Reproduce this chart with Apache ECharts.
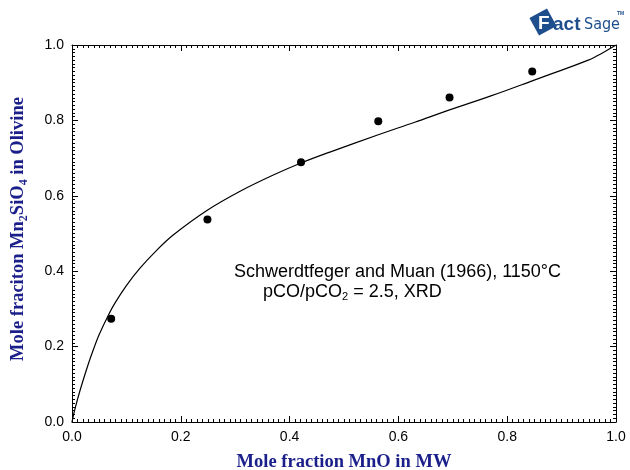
<!DOCTYPE html>
<html>
<head>
<meta charset="utf-8">
<script src="https://cdn.jsdelivr.net/npm/echarts@6/dist/echarts.min.js"></script>
<style>html,body{margin:0;padding:0;background:#fff}#c{width:630px;height:470px}</style>
</head>
<body>
<div id="c"></div>
<script>
// Calculated curve (FactSage)
const curveX = [0, 0.005, 0.015, 0.03, 0.039, 0.05, 0.067, 0.08, 0.1, 0.125, 0.156, 0.186, 0.248, 0.309, 0.37, 0.421, 0.474, 0.563, 0.63, 0.694, 0.77, 0.846, 0.949, 0.975, 1.0];
const curveY = [0, 0.032, 0.085, 0.154, 0.191, 0.232, 0.284, 0.318, 0.362, 0.408, 0.456, 0.496, 0.561, 0.612, 0.655, 0.687, 0.716, 0.762, 0.795, 0.828, 0.865, 0.905, 0.960, 0.979, 1.0];
// Experimental points: Schwerdtfeger and Muan (1966)
const expX = [0.072, 0.249, 0.421, 0.563, 0.694, 0.846];
const expY = [0.274, 0.537, 0.689, 0.798, 0.861, 0.930];
const xTicks = [0, 0.2, 0.4, 0.6, 0.8, 1.0];
const yTicks = [0, 0.2, 0.4, 0.6, 0.8, 1.0];

const navy = '#1b1f8a';
const logoBlue = '#1f4e8d';
const chart = echarts.init(document.getElementById('c'));
const axisCommon = {
  type: 'value', min: xTicks[0], max: xTicks[xTicks.length - 1], interval: 0.2,
  axisLine: {show: true, onZero: false, lineStyle: {color: '#000', width: 1}},
  axisTick: {show: true, inside: true, length: 6, lineStyle: {color: '#000', width: 1}},
  minorTick: {show: true, splitNumber: 20, length: 3, lineStyle: {color: '#000', width: 1}},
  splitLine: {show: false}
};
const lbl = {color: '#000', fontSize: 14, fontFamily: 'Liberation Sans, Arial', formatter: v => v.toFixed(1)};
chart.setOption({
  animation: false,
  backgroundColor: '#fff',
  grid: {left: 72, right: 14, top: 45, bottom: 48, containLabel: false, outerBoundsMode: 'none'},
  xAxis: [
    Object.assign({}, axisCommon, {position: 'bottom', axisLabel: Object.assign({margin: 8}, lbl),
      name: 'Mole fraction MnO in MW', nameLocation: 'middle', nameGap: 31,
      nameTextStyle: {color: navy, fontSize: 18.5, fontWeight: 'bold', fontFamily: 'Liberation Serif, Times New Roman'}}),
    Object.assign({}, axisCommon, {position: 'top', axisLabel: {show: false}})
  ],
  yAxis: [
    Object.assign({}, axisCommon, {position: 'left', min: yTicks[0], max: yTicks[yTicks.length - 1], axisLabel: Object.assign({margin: 8}, lbl)}),
    Object.assign({}, axisCommon, {position: 'right', min: yTicks[0], max: yTicks[yTicks.length - 1], axisLabel: {show: false}})
  ],
  series: [
    {type: 'line', data: curveX.map((x, i) => [x, curveY[i]]), showSymbol: false, smooth: 0.35,
     lineStyle: {color: '#000', width: 1.2}},
    {type: 'scatter', data: expX.map((x, i) => [x, expY[i]]), symbolSize: 8, itemStyle: {color: '#000', opacity: 1}}
  ],
  graphic: [
    {type: 'text', x: 18, y: 229, rotation: Math.PI / 2,
     style: {text: 'Mole fraciton Mn{s|2}SiO{s|4} in Olivine', fill: navy, align: 'center', verticalAlign: 'middle',
       font: 'bold 18.5px "Liberation Serif", "Times New Roman", serif',
       rich: {s: {fontSize: 12, fontWeight: 'bold', fontFamily: 'Liberation Serif', fill: navy, padding: [11, 0, 0, 0]}}}},
    {type: 'text', x: 234, y: 272,
     style: {text: 'Schwerdtfeger and Muan (1966), 1150°C', fill: '#000', align: 'left', verticalAlign: 'middle',
       font: '18px "Liberation Sans", Arial, sans-serif'}},
    {type: 'text', x: 263, y: 292,
     style: {text: 'pCO/pCO{s|2} = 2.5, XRD', fill: '#000', align: 'left', verticalAlign: 'middle',
       font: '18px "Liberation Sans", Arial, sans-serif',
       rich: {s: {fontSize: 11, fontFamily: 'Liberation Sans', fill: '#000', padding: [9, 0, 0, 0]}}}},
    // FactSage logo
    {type: 'rect', x: 543, y: 22, rotation: 0.5,
     shape: {x: -10, y: -10, width: 20, height: 20}, style: {fill: logoBlue}},
    {type: 'text', x: 538, y: 24, style: {text: 'F', fill: '#fff', font: 'bold 19px "Liberation Sans", Arial', verticalAlign: 'middle'}},
    {type: 'text', x: 553, y: 25, style: {text: 'act', fill: logoBlue, font: 'bold 19px "Liberation Sans", Arial', verticalAlign: 'middle'}},
    {type: 'text', x: 584, y: 25, style: {text: 'Sage', fill: logoBlue, font: '16px "Liberation Sans Narrow", "DejaVu Sans Condensed", Arial', verticalAlign: 'middle'}},
    {type: 'text', x: 617, y: 14, style: {text: 'TM', fill: logoBlue, font: 'bold 5px "Liberation Sans", Arial', verticalAlign: 'middle'}}
  ]
});
</script>
</body>
</html>
